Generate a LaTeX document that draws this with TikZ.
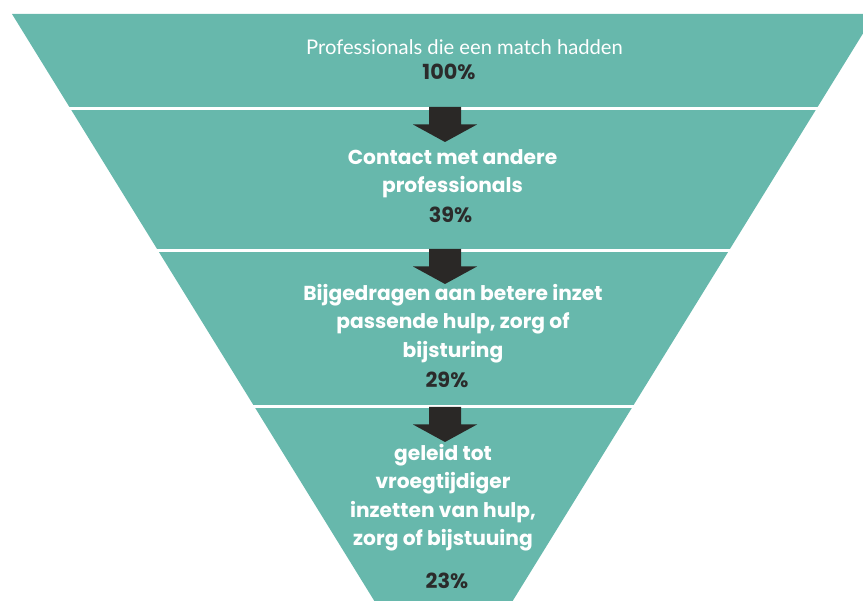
\documentclass[tikz,border=0pt]{standalone}
\usepackage{fontspec}
\setmainfont{Poppins}
\newfontfamily\latofont{Lato}
\definecolor{teal1}{HTML}{67B8AC}
\definecolor{darkarrow}{HTML}{2A2826}
\definecolor{pctcol}{HTML}{2B2B2B}
\tikzset{
  bandtxt/.style={text=white, font=\bfseries\fontsize{20.2}{28.5}\selectfont, align=center, inner sep=0pt, anchor=base},
  pcttxt/.style={text=pctcol, font=\bfseries\fontsize{20.8}{24}\selectfont, inner sep=0pt, anchor=base},
  gap/.style={white, line width=3pt},
  blockarrow/.style={fill=darkarrow, draw=none}
}
\newcommand{\downarrowat}[1]{%
  \fill[blockarrow] (429,#1) -- (461,#1) -- (461,#1+17.5) -- (477,#1+17.5) -- (445,#1+35) -- (413,#1+17.5) -- (429,#1+17.5) -- cycle;}
\begin{document}
\begin{tikzpicture}[x=1pt,y=-1pt]
\useasboundingbox (0,0) rectangle (863,601);
\begin{scope}
\clip (0,0) rectangle (863,601);
\fill[teal1] (12,14) -- (875,14) -- (443.5,713) -- cycle;
\draw[gap] (0,108.5) -- (863,108.5);
\draw[gap] (0,250.5) -- (863,250.5);
\draw[gap] (0,406.5) -- (863,406.5);
\end{scope}
\downarrowat{107}
\downarrowat{249}
\downarrowat{407}
\node[text=white, font=\latofont\fontsize{20.2}{24}\selectfont, inner sep=0pt, anchor=base] (t1) at (464.5,55) {Professionals die een match hadden};
\node[pcttxt] (p1) at (449,80) {100\%};
\node[bandtxt] (t2) at (452.5,193) {Contact met andere\\professionals};
\node[pcttxt] (p2) at (450.5,223) {39\%};
\node[bandtxt] (t3) at (453,357.5) {Bijgedragen aan betere inzet\\passende hulp, zorg of\\bijsturing};
\node[pcttxt] (p3) at (447,388) {29\%};
\node[bandtxt] (t4) at (443,546) {geleid tot\\vroegtijdiger\\inzetten van hulp,\\zorg of bijstuuing};
\node[pcttxt] (p4) at (447,589) {23\%};
\end{tikzpicture}
\end{document}
